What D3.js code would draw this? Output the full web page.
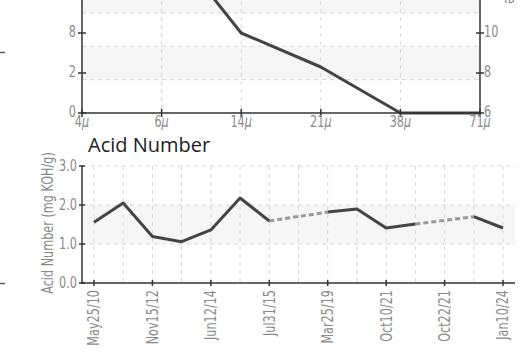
<!DOCTYPE html>
<html><head><meta charset="utf-8">
<script src="https://cdn.jsdelivr.net/npm/d3@7"></script>
<style>
html,body{margin:0;padding:0;background:#fff;overflow:hidden;}
svg{display:block;}
.tick-label{font-family:"DejaVu Sans",sans-serif;fill:#8a8a8a;font-size:15px;}
</style></head>
<body>
<svg id="chart" width="524" height="360"></svg>
<script>
// ---------- Data: top chart (particle count / ISO code, cropped) ----------
const sizeCategories = ["4", "6", "14", "21", "38", "71"];
const isoCodeValues = [17, 15, 10, 8.3, 6, 6];
const rightTickValues = [6, 8, 10];
const leftTickLabels = ["0", "2", "8"];
const topGridValues = [7.667, 9.333, 11, 12.667];

// ---------- Data: bottom chart (Acid Number) ----------
const sampleDates = ["May25/10","","Nov15/12","","Jun12/14","","Jul31/15","","Mar25/19","","Oct10/21","","Oct22/21","","Jan10/24"];
const acidValues = [1.56, 2.05, 1.19, 1.06, 1.36, 2.18, 1.59, null, 1.82, 1.90, 1.41, 1.51, null, 1.70, 1.41];
const acidTickValues = [0, 1, 2, 3];

const svg = d3.select("#chart");
const axisColor = "#333";
const gridColor = "#d6d6d6";
const bandColor = "#f6f6f6";
const lineColor = "#444";
const NARROW = 0.75;

function label(parent, x, y, txt, anchor, rot, dy) {
  const t = parent.append("text").attr("class","tick-label")
    .attr("transform", `translate(${x},${y}) rotate(${rot||0}) scale(${NARROW},1)`)
    .attr("text-anchor", anchor);
  if (dy) t.attr("dy", dy);
  if (txt != null) t.text(txt);
  return t;
}

// ---------- neighbour fragments at far left ----------
svg.append("line").attr("x1",0).attr("x2",5).attr("y1",52.5).attr("y2",52.5).attr("stroke","#555").attr("stroke-width",1.5);
svg.append("line").attr("x1",0).attr("x2",5).attr("y1",283.5).attr("y2",283.5).attr("stroke","#555").attr("stroke-width",1.5);

// ================= TOP CHART =================
const tx = d3.scalePoint().domain(sizeCategories).range([82, 480]);
const ty = d3.scaleLinear().domain([6, 11]).range([113, 13]);
const topPlotTop = ty(14);
const gTop = svg.append("g");

[[topGridValues[0], topGridValues[1]], [topGridValues[2], topGridValues[3]]].forEach(([a,b]) => {
  gTop.append("rect").attr("x",82).attr("width",480-82)
    .attr("y", ty(b)).attr("height", ty(a)-ty(b)).attr("fill", bandColor);
});
gTop.selectAll("line.hg").data(topGridValues).join("line")
  .attr("x1",82).attr("x2",480).attr("y1",d=>ty(d)).attr("y2",d=>ty(d))
  .attr("stroke",gridColor).attr("stroke-dasharray","4,4");
gTop.selectAll("line.vg").data(sizeCategories.slice(1,-1)).join("line")
  .attr("x1",d=>tx(d)).attr("x2",d=>tx(d)).attr("y1",topPlotTop).attr("y2",113)
  .attr("stroke",gridColor).attr("stroke-dasharray","4,4");

const topLine = d3.line().x((d,i)=>tx(sizeCategories[i])).y(d=>ty(d));
gTop.append("path").datum(isoCodeValues).attr("d",topLine)
  .attr("fill","none").attr("stroke",lineColor).attr("stroke-width",3).attr("stroke-linejoin","round");

gTop.append("line").attr("x1",82).attr("x2",82).attr("y1",topPlotTop).attr("y2",113.5).attr("stroke",axisColor).attr("stroke-width",1.5);
gTop.append("line").attr("x1",480).attr("x2",480).attr("y1",topPlotTop).attr("y2",113.5).attr("stroke",axisColor).attr("stroke-width",1.5);
gTop.append("line").attr("x1",81).attr("x2",481).attr("y1",113).attr("y2",113).attr("stroke",axisColor).attr("stroke-width",1.5);

const leftMap = d3.scaleOrdinal().domain(leftTickLabels).range(rightTickValues);
leftTickLabels.forEach(l => {
  const y = ty(leftMap(l));
  gTop.append("line").attr("x1",78).attr("x2",86).attr("y1",y).attr("y2",y).attr("stroke",axisColor).attr("stroke-width",1.5);
  label(gTop, 76, y - 1, l, "end", 0, "0.36em");
});
rightTickValues.forEach(v => {
  const y = ty(v);
  gTop.append("line").attr("x1",476).attr("x2",484).attr("y1",y).attr("y2",y).attr("stroke",axisColor).attr("stroke-width",1.5);
  label(gTop, 484, y - 1, v, "start", 0, "0.36em");
});
sizeCategories.forEach(c => {
  const x = tx(c);
  gTop.append("line").attr("x1",x).attr("x2",x).attr("y1",109).attr("y2",117).attr("stroke",axisColor).attr("stroke-width",1.5);
  const t = label(gTop, x, 127, null, "middle", 0);
  t.append("tspan").text(c);
  t.append("tspan").attr("font-style","italic").text("\u03bc");
});
label(svg, 505, 4, "ISO Code", "end", 90);

// ================= BOTTOM CHART =================
const bx = d3.scaleLinear().domain([0, sampleDates.length-1]).range([94, 503]);
const by = d3.scaleLinear().domain([0, 3]).range([283, 166]);
const gB = svg.append("g");

svg.append("text").attr("x",88).attr("y",152).attr("font-family","'Open Sans',sans-serif")
  .attr("font-size",20).attr("fill","#222").text("Acid Number");

gB.append("rect").attr("x",82).attr("width",515-82).attr("y",by(2)).attr("height",by(1)-by(2)).attr("fill",bandColor);
gB.selectAll("line.hg").data(acidTickValues.slice(1)).join("line")
  .attr("x1",82).attr("x2",515).attr("y1",d=>by(d)).attr("y2",d=>by(d))
  .attr("stroke",gridColor).attr("stroke-dasharray","4,4");
gB.selectAll("line.vg").data(sampleDates).join("line")
  .attr("x1",(d,i)=>bx(i)).attr("x2",(d,i)=>bx(i)).attr("y1",by(3)).attr("y2",283)
  .attr("stroke",gridColor).attr("stroke-dasharray","4,4");

const pts = acidValues.map((v,i)=>({i,v})).filter(d=>d.v!=null);
for (let k=0;k<pts.length-1;k++){
  if (pts[k+1].i - pts[k].i > 1){
    gB.append("line").attr("x1",bx(pts[k].i)).attr("y1",by(pts[k].v))
      .attr("x2",bx(pts[k+1].i)).attr("y2",by(pts[k+1].v))
      .attr("stroke","#999").attr("stroke-width",3).attr("stroke-dasharray","5,3");
  }
}
const acidLine = d3.line().defined(d=>d!=null).x((d,i)=>bx(i)).y(d=>by(d));
gB.append("path").datum(acidValues).attr("d",acidLine)
  .attr("fill","none").attr("stroke",lineColor).attr("stroke-width",3).attr("stroke-linejoin","round");

gB.append("line").attr("x1",82).attr("x2",82).attr("y1",by(3)).attr("y2",283.5).attr("stroke",axisColor).attr("stroke-width",1.5);
gB.append("line").attr("x1",81).attr("x2",515).attr("y1",283).attr("y2",283).attr("stroke",axisColor).attr("stroke-width",1.5);
acidTickValues.forEach(v=>{
  const y = by(v);
  gB.append("line").attr("x1",79).attr("x2",85).attr("y1",y).attr("y2",y).attr("stroke",axisColor).attr("stroke-width",1.5);
  label(gB, 77, y, v.toFixed(1), "end", 0, "0.36em");
});
sampleDates.forEach((d,i)=>{
  if(!d) return;
  const x = bx(i);
  gB.append("line").attr("x1",x).attr("x2",x).attr("y1",280).attr("y2",286).attr("stroke",axisColor).attr("stroke-width",1.5);
  label(gB, x, 290, d, "end", -90, "0.36em");
});
label(svg, 48, 223, "Acid Number (mg KOH/g)", "middle", -90, "0.36em");
</script>
</body></html>
